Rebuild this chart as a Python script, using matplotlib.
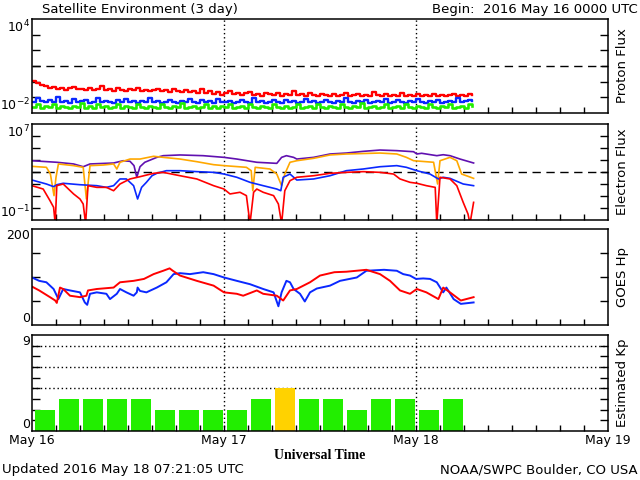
import numpy as np
import matplotlib
matplotlib.use("Agg")
from matplotlib import pyplot as plt
from matplotlib.ticker import NullLocator

# time axis: hours since 2016 May 16 0000 UTC
day_labels = ["May 16", "May 17", "May 18", "May 19"]
day_hours = [0, 24, 48, 72]

# proton flux (pfu), one value every 30 min
p_hours = np.arange(0, 55.5, 0.5)
p_red = [1.05, 0.8, 0.6, 0.5, 0.38, 0.45, 0.33, 0.42, 0.3, 0.37,
         0.45, 0.32, 0.36, 0.29, 0.4, 0.31, 0.35, 0.5, 0.3, 0.34,
         0.27, 0.38, 0.3, 0.25, 0.33, 0.28, 0.42, 0.26, 0.31, 0.24,
         0.3, 0.36, 0.25, 0.28, 0.22, 0.34, 0.26, 0.23, 0.3, 0.21,
         0.27, 0.2, 0.35, 0.19, 0.24, 0.17, 0.22, 0.15, 0.19, 0.25,
         0.16, 0.2, 0.14, 0.18, 0.23, 0.15, 0.17, 0.13, 0.19, 0.16,
         0.14, 0.2, 0.13, 0.17, 0.15, 0.26, 0.14, 0.16, 0.13, 0.18,
         0.15, 0.12, 0.17, 0.14, 0.13, 0.16, 0.12, 0.15, 0.2, 0.13,
         0.14, 0.17, 0.12, 0.15, 0.13, 0.22, 0.14, 0.12, 0.16, 0.13,
         0.15, 0.12, 0.18, 0.13, 0.14, 0.12, 0.16, 0.13, 0.15, 0.12,
         0.17, 0.13, 0.15, 0.12, 0.14, 0.16, 0.13, 0.15, 0.12, 0.16,
         0.14]
p_blue = [0.05, 0.09, 0.06, 0.05, 0.07, 0.05, 0.1, 0.05, 0.06, 0.045,
          0.08, 0.05, 0.055, 0.07, 0.045, 0.05, 0.09, 0.05, 0.06, 0.05,
          0.045, 0.07, 0.05, 0.08, 0.05, 0.055, 0.045, 0.06, 0.05, 0.085,
          0.05, 0.06, 0.045, 0.05, 0.07, 0.05, 0.045, 0.06, 0.05, 0.075,
          0.05, 0.045, 0.065, 0.05, 0.055, 0.045, 0.08, 0.05, 0.05, 0.06,
          0.045, 0.05, 0.07, 0.05, 0.045, 0.09, 0.05, 0.06, 0.045, 0.05,
          0.065, 0.05, 0.045, 0.07, 0.05, 0.055, 0.045, 0.05, 0.08, 0.05,
          0.06, 0.045, 0.05, 0.07, 0.05, 0.045, 0.06, 0.05, 0.09, 0.05,
          0.045, 0.06, 0.05, 0.07, 0.045, 0.05, 0.06, 0.05, 0.075, 0.045,
          0.05, 0.065, 0.05, 0.045, 0.06, 0.05, 0.08, 0.05, 0.045, 0.06,
          0.05, 0.07, 0.045, 0.05, 0.06, 0.05, 0.085, 0.05, 0.055, 0.07,
          0.06]
p_green = [0.025, 0.035, 0.02, 0.03, 0.025, 0.04, 0.022, 0.03, 0.025, 0.02,
           0.03, 0.025, 0.045, 0.022, 0.028, 0.02, 0.035, 0.025, 0.03, 0.022,
           0.025, 0.038, 0.02, 0.03, 0.025, 0.022, 0.04, 0.025, 0.02, 0.03,
           0.025, 0.022, 0.035, 0.025, 0.02, 0.03, 0.025, 0.045, 0.022, 0.025,
           0.03, 0.02, 0.025, 0.035, 0.022, 0.028, 0.02, 0.03, 0.025, 0.04,
           0.022, 0.025, 0.03, 0.02, 0.035, 0.025, 0.022, 0.03, 0.025, 0.02,
           0.038, 0.025, 0.022, 0.03, 0.02, 0.025, 0.035, 0.022, 0.025, 0.03,
           0.02, 0.04, 0.025, 0.022, 0.03, 0.025, 0.02, 0.035, 0.025, 0.022,
           0.03, 0.025, 0.045, 0.02, 0.025, 0.03, 0.022, 0.025, 0.035, 0.02,
           0.025, 0.03, 0.022, 0.04, 0.025, 0.02, 0.03, 0.025, 0.022, 0.035,
           0.025, 0.02, 0.03, 0.025, 0.038, 0.022, 0.025, 0.03, 0.02, 0.035,
           0.028]

# electron flux, (hour, log10 flux)
e_purple = [(0.0, 3.94), (3.1, 3.81), (5.2, 3.67), (6.4, 3.44), (7.25, 3.67),
            (10.2, 3.75), (11.4, 3.94), (12.25, 3.89), (12.75, 3.53), (13.1, 2.56),
            (13.5, 3.44), (14.1, 3.81), (15.6, 4.22), (16.4, 4.36), (18.5, 4.42),
            (21.4, 4.36), (24.0, 4.22), (25.6, 4.08), (28.1, 3.81), (30.6, 3.72),
            (31.2, 4.22), (31.8, 4.36), (32.7, 4.22), (33.1, 4.08), (35.2, 4.22),
            (37.25, 4.5), (39.3, 4.58), (41.4, 4.72), (43.5, 4.83), (45.6, 4.78),
            (47.7, 4.69), (48.1, 4.5), (48.7, 4.56), (50.6, 4.36), (51.4, 4.44),
            (52.25, 4.36), (53.5, 4.08), (55.2, 3.75)]
e_orange = [(0.0, 3.47), (1.8, 3.39), (2.3, 2.83), (2.75, 1.03), (3.0, 2.56),
            (3.3, 3.67), (5.2, 3.53), (6.4, 3.39), (6.8, 0.75), (7.25, 3.53),
            (8.9, 3.58), (10.2, 3.67), (10.6, 3.25), (11.0, 3.81), (12.25, 4.08),
            (13.5, 4.08), (15.2, 4.31), (16.4, 4.22), (18.5, 4.08), (20.6, 3.86),
            (22.7, 3.61), (24.0, 3.53), (26.8, 3.39), (27.4, 3.11), (27.6, 1.44),
            (27.9, 3.39), (29.75, 3.25), (30.6, 2.83), (31.2, 1.86), (31.6, 2.83),
            (32.25, 3.81), (33.1, 3.94), (35.2, 4.14), (37.25, 4.42), (39.3, 4.5),
            (43.5, 4.58), (45.6, 4.5), (46.8, 4.22), (47.7, 3.94), (50.2, 3.81),
            (50.7, 2.0), (51.0, 3.94), (52.25, 4.22), (53.1, 3.94), (53.7, 2.83),
            (54.3, 2.69), (55.2, 2.47)]
e_blue = [(0.0, 2.33), (1.8, 2.0), (2.7, 1.78), (3.1, 1.94), (3.9, 2.06),
          (6.0, 1.94), (8.1, 1.86), (9.3, 1.72), (10.2, 1.86), (11.0, 2.42),
          (11.8, 2.42), (12.7, 1.86), (13.2, 0.75), (13.7, 1.72), (14.3, 2.14),
          (15.0, 2.69), (15.6, 2.89), (16.8, 3.11), (18.5, 3.11), (20.6, 3.03),
          (22.7, 2.97), (24.0, 2.83), (25.6, 2.56), (27.25, 2.14), (28.9, 1.86),
          (30.6, 1.58), (31.1, 1.44), (31.4, 2.56), (32.25, 2.83), (33.1, 2.33),
          (35.2, 2.42), (37.25, 2.69), (39.3, 3.11), (41.4, 3.25), (43.5, 3.44),
          (45.6, 3.53), (46.8, 3.39), (48.1, 3.11), (49.75, 2.83), (50.8, 2.42),
          (51.4, 2.56), (52.25, 2.47), (53.9, 2.0), (55.2, 1.86)]
e_red = [(0.0, 1.86), (1.4, 1.58), (2.25, 0.61), (2.7, 0.06), (2.9, -1.3),
         (3.1, 1.86), (3.9, 2.0), (5.2, 1.17), (6.0, 0.75), (6.4, 0.33),
         (6.7, -1.3), (7.0, 1.86), (8.1, 1.72), (9.3, 1.72), (10.2, 1.44),
         (11.0, 2.0), (12.25, 2.42), (13.5, 2.61), (15.2, 2.89), (16.4, 2.97),
         (18.5, 2.69), (20.6, 2.42), (22.7, 1.86), (24.0, 1.58), (24.75, 1.17),
         (26.0, 1.31), (26.8, 1.03), (27.25, -1.3), (27.7, 1.31), (28.1, 1.58),
         (28.9, 1.31), (30.2, 1.03), (30.8, 0.33), (31.2, -1.3), (31.6, 1.44),
         (32.25, 2.28), (33.1, 2.56), (35.2, 2.69), (37.25, 2.89), (39.3, 2.97),
         (41.4, 3.03), (43.5, 2.97), (45.2, 2.83), (46.0, 2.42), (47.25, 2.14),
         (48.1, 2.06), (49.3, 1.86), (50.4, 1.72), (50.6, -1.3), (51.0, 2.56),
         (52.25, 2.42), (53.1, 1.86), (53.9, 0.47), (54.5, -0.5), (54.75, -1.3),
         (55.2, 0.47)]

# GOES Hp (nT), (hour, value)
hp_blue = [(0.0, 99), (0.9, 92), (1.8, 89), (2.7, 75), (3.3, 54), (3.9, 75),
           (4.75, 72), (6.0, 68), (6.6, 47), (6.9, 42), (7.25, 65), (8.1, 68),
           (9.3, 65), (9.75, 54), (10.6, 65), (11.0, 75), (11.8, 68), (12.7, 61),
           (13.1, 68), (13.2, 78), (13.5, 71), (14.3, 68), (15.6, 78), (16.8, 89),
           (17.7, 106), (18.5, 108), (19.75, 106), (21.4, 110), (22.7, 106),
           (24.0, 99), (25.6, 92), (27.25, 85), (28.9, 75), (30.2, 68), (30.8, 39),
           (31.2, 68), (31.8, 92), (32.25, 89), (32.7, 75), (33.5, 65), (34.1, 49),
           (34.75, 68), (35.6, 76), (37.25, 82), (38.5, 92), (40.6, 99),
           (41.8, 113), (44.0, 115), (45.6, 113), (46.4, 106), (47.25, 103),
           (48.0, 96), (48.9, 97), (49.75, 96), (50.6, 89), (51.4, 68), (51.8, 78),
           (52.7, 54), (53.6, 44), (55.2, 47)]
hp_red = [(0.0, 80), (0.9, 72), (2.25, 58), (2.9, 51), (3.1, 46), (3.5, 78),
          (3.9, 75), (4.75, 61), (6.0, 58), (6.8, 61), (7.0, 72), (8.1, 75),
          (10.2, 78), (11.0, 89), (12.7, 92), (14.0, 96), (15.2, 106), (16.4, 113),
          (17.2, 118), (17.6, 113), (18.5, 103), (20.6, 92), (22.7, 82), (24.0, 68),
          (25.6, 65), (26.4, 61), (28.1, 72), (28.9, 65), (30.6, 61), (31.4, 51),
          (32.25, 72), (33.1, 75), (34.75, 89), (36.0, 103), (37.8, 110),
          (39.3, 111), (41.8, 115), (43.5, 106), (44.75, 92), (46.0, 72),
          (47.25, 65), (48.1, 75), (49.3, 68), (50.8, 54), (51.4, 78), (52.25, 68),
          (53.6, 51), (55.2, 58)]

# estimated Kp, 3-hour bins starting May 16 00 UTC
kp_vals = [2, 3, 3, 3, 3, 2, 2, 2, 2, 3, 4, 3, 3, 2, 3, 3, 2, 3]

FS = 8.5
RED, BLUE, GREEN = "#ff0000", "#0a28ff", "#22ee00"
PURPLE, ORANGE = "#6010b0", "#ffa800"

fig = plt.figure(figsize=(6.4, 4.8), dpi=100)
ax1 = fig.add_axes([0.05, 1 - 113 / 480, 0.9, 94 / 480])
ax2 = fig.add_axes([0.05, 1 - 220 / 480, 0.9, 96 / 480])
ax3 = fig.add_axes([0.05, 1 - 325 / 480, 0.9, 96 / 480])
ax4 = fig.add_axes([0.05, 1 - 431 / 480, 0.9, 96 / 480])


def frame(ax, yticks, top_lab, bot_lab, right_lab):
    ax.set_xlim(0, 72)
    ax.set_xticks(np.arange(3, 72, 3))
    ax.set_yticks(yticks)
    ax.yaxis.set_minor_locator(NullLocator())
    ax.xaxis.set_minor_locator(NullLocator())
    ax.tick_params(axis="x", direction="in", length=4, width=1,
                   top=False, labelbottom=False)
    ax.tick_params(axis="y", direction="in", length=6, width=1,
                   left=True, right=True, labelleft=False)
    for s in ax.spines.values():
        s.set_linewidth(1.1)
    for d in day_hours[1:3]:
        ax.axvline(d, color="k", ls=(0, (1, 2)), lw=1, zorder=1)
    ax.text(-0.004, 1.0, top_lab, transform=ax.transAxes, ha="right",
            va="top", fontsize=FS + 0.5)
    ax.text(-0.004, 0.0, bot_lab, transform=ax.transAxes, ha="right",
            va="bottom", fontsize=FS + 0.5)
    ax.text(1.026, 0.5, right_lab, transform=ax.transAxes, rotation=90,
            ha="center", va="center", fontsize=FS + 1)


# proton flux
ax1.set_yscale("log")
ax1.set_ylim(1e-2, 1e4)
ax1.axhline(10, color="k", ls=(0, (6, 4)), lw=1)
ax1.plot(p_hours, p_red, color=RED, lw=1.7, drawstyle="steps-post")
ax1.plot(p_hours, p_blue, color=BLUE, lw=1.7, drawstyle="steps-post")
ax1.plot(p_hours, p_green, color=GREEN, lw=1.9, drawstyle="steps-post")
frame(ax1, [1e-1, 1, 10, 100, 1000], r"$10^{4}$", r"$10^{-2}$", "Proton Flux")

# electron flux
ax2.set_yscale("log")
ax2.set_ylim(1e-1, 1e7)
ax2.axhline(1000, color="k", ls=(0, (6, 4)), lw=1)
for series, c in [(e_purple, PURPLE), (e_orange, ORANGE), (e_blue, BLUE), (e_red, RED)]:
    h, lg = zip(*series)
    ax2.plot(h, 10 ** np.array(lg), color=c, lw=1.2)
frame(ax2, [1, 10, 100, 1e3, 1e4, 1e5, 1e6], r"$10^{7}$", r"$10^{-1}$", "Electron Flux")

# GOES Hp
ax3.set_ylim(0, 200)
for series, c in [(hp_blue, BLUE), (hp_red, RED)]:
    h, v = zip(*series)
    ax3.plot(h, v, color=c, lw=1.4)
frame(ax3, [50, 100, 150], "200", "0", "GOES Hp")

# Kp
ax4.set_ylim(0, 9)
for lvl in [4, 6, 8]:
    ax4.axhline(lvl, color="k", ls=(0, (1, 2)), lw=1, zorder=1)
kp_left = np.arange(len(kp_vals)) * 3 + 0.4
kp_colors = [GREEN if v < 4 else ("#ffd200" if v == 4 else RED) for v in kp_vals]
ax4.bar(kp_left, kp_vals, width=2.5, align="edge", color=kp_colors, zorder=2)
frame(ax4, [1, 2, 3, 4, 5, 6, 7, 8], "9", "0", "Estimated Kp")
for lab, d in zip(day_labels, day_hours):
    ax4.text(d, -0.9, lab, ha="center", va="center", fontsize=FS + 0.5)
ax4.text(36, -2.3, "Universal Time", ha="center", va="center",
         fontsize=10, fontweight="bold", family="Liberation Serif")

fig.text(42 / 640, 1 - 10 / 480, "Satellite Environment (3 day)",
         ha="left", va="center", fontsize=FS + 1)
fig.text(638 / 640, 1 - 10 / 480, "Begin:  2016 May 16 0000 UTC",
         ha="right", va="center", fontsize=FS + 1)
fig.text(2 / 640, 1 - 470 / 480, "Updated 2016 May 18 07:21:05 UTC",
         ha="left", va="center", fontsize=FS + 1)
fig.text(638 / 640, 1 - 470 / 480, "NOAA/SWPC Boulder, CO USA",
         ha="right", va="center", fontsize=FS + 1)

fig.savefig("out.png", dpi=100)
